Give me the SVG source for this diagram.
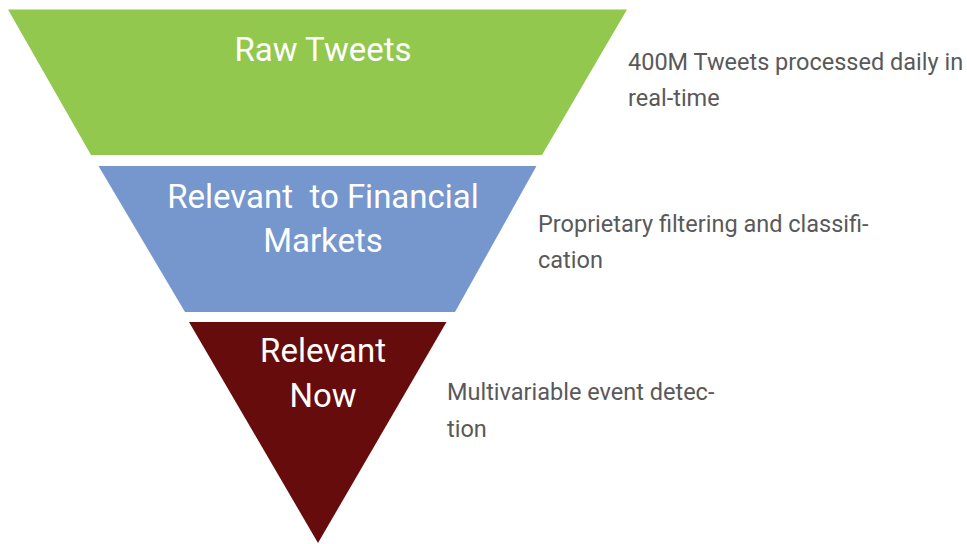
<svg xmlns="http://www.w3.org/2000/svg" width="967" height="544" viewBox="0 0 967 544">
<style>
.lbl{font-family:Roboto,"Liberation Sans",sans-serif;font-size:33px;fill:#ffffff;text-anchor:middle}
.desc{font-family:Roboto,"Liberation Sans",sans-serif;font-size:23.5px;fill:#595959}
</style>
<rect width="967" height="544" fill="#ffffff"/>
<g id="raw-tweets">
<polygon points="8,9.5 627,9.5 542,155 91,155" fill="#92C84E"/>
<text class="lbl" x="323" y="61">Raw Tweets</text>
</g>
<g id="relevant-financial">
<polygon points="98.5,166 536.5,166 455,312 185,312" fill="#7597CD"/>
<text class="lbl" x="323" y="208" xml:space="preserve">Relevant  to Financial</text>
<text class="lbl" x="323" y="252">Markets</text>
</g>
<g id="relevant-now">
<polygon points="189,322 446.5,322 318,543" fill="#660C0C"/>
<text class="lbl" x="323" y="362">Relevant</text>
<text class="lbl" x="323" y="407">Now</text>
</g>
<g id="descriptions">
<text class="desc" x="628" y="70">400M Tweets processed daily in</text>
<text class="desc" x="628" y="106">real-time</text>
<text class="desc" x="538" y="232">Proprietary filtering and classifi-</text>
<text class="desc" x="538" y="268">cation</text>
<text class="desc" x="447" y="400">Multivariable event detec-</text>
<text class="desc" x="447" y="437">tion</text>
</g>
<g id="connectors"></g>
</svg>
